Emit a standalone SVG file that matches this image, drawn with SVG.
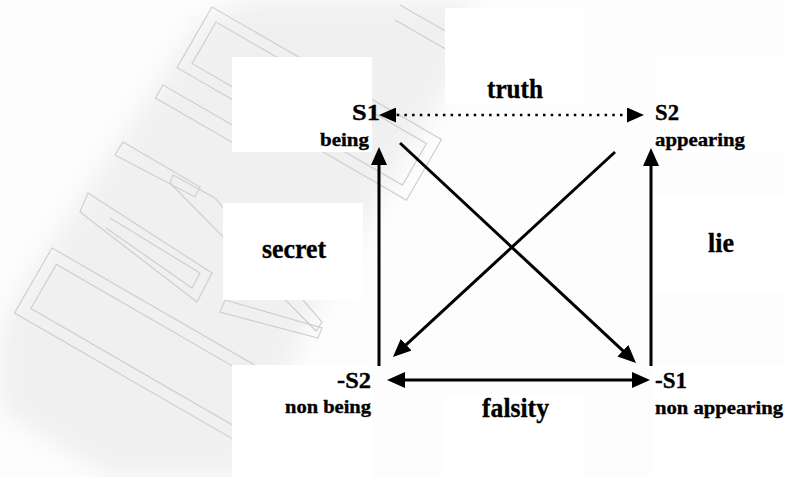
<svg xmlns="http://www.w3.org/2000/svg" width="785" height="477" viewBox="0 0 785 477">
  <defs>
    <style>
      .t { font-family: "Liberation Serif", "Times New Roman", serif; font-weight: bold; fill: #000; stroke: #000; stroke-width: 0.35; }
      .big { font-size: 28px; }
      .sym { font-size: 23px; }
      .sub { font-size: 19px; }
      .wm { fill: none; stroke: #cfcfcf; stroke-width: 1.2; }
      .box { fill: #ffffff; }
      .solid { stroke: #000; stroke-width: 3; fill: none; }
      .dotted { stroke: #000; stroke-width: 2.5; fill: none; stroke-dasharray: 2.5 5.2; }
    </style>
    <filter id="blur" x="-20%" y="-20%" width="140%" height="140%">
      <feGaussianBlur stdDeviation="12"/>
    </filter>
    <marker id="ah" viewBox="0 0 18 16" markerWidth="18" markerHeight="16" refX="8" refY="8" orient="auto-start-reverse" markerUnits="userSpaceOnUse">
      <path d="M0,0 L18,8 L0,16 z" fill="#000"/>
    </marker>
    <marker id="ahs" viewBox="0 0 17 15" markerWidth="17" markerHeight="15" refX="7" refY="7.5" orient="auto-start-reverse" markerUnits="userSpaceOnUse">
      <path d="M0,0 L17,7.5 L0,15 z" fill="#000"/>
    </marker>
  </defs>

  <rect x="0" y="0" width="785" height="477" fill="#fdfdfd"/>

  <!-- watermark -->
  <g id="watermark">
    <path d="M0,330 L20,290 L200,20 L250,0 L470,0 L470,50 L320,300 L240,477 L110,477 L0,410 Z" fill="#e6e6e6" filter="url(#blur)" opacity="0.55"/>
    <g transform="translate(212,7) rotate(30)">
      <rect class="wm" x="0" y="0" width="265" height="70"/>
      <rect class="wm" x="11" y="11" width="243" height="48"/>
    </g>
    <g transform="translate(163,85) rotate(30)">
      <rect class="wm" x="0" y="0" width="90" height="15"/>
    </g>
    <polygon class="wm" points="123,142 200,187 195,197 115,155"/>
    <polygon class="wm" points="173,175 215,198 322,322 316,331 170,183"/>
    <polygon class="wm" points="88,193 212,273 197,302 80,212"/>
    <polyline class="wm" points="110,218 200,273 192,288 106,228"/>
    <polygon class="wm" points="225,300 322,328 318,338 220,312"/>
    <g transform="translate(52,248) rotate(30)">
      <rect class="wm" x="0" y="0" width="265" height="75"/>
      <rect class="wm" x="12" y="12" width="241" height="51"/>
    </g>
    <polyline class="wm" points="395,20 470,63"/>
    <polyline class="wm" points="400,5 470,45"/>
  </g>

  <!-- white label backgrounds -->
  <g id="backgrounds">
    <rect class="box" x="232" y="57" width="140" height="95"/>
    <rect class="box" x="445" y="8" width="140" height="96"/>
    <rect class="box" x="223" y="203" width="140" height="97"/>
    <rect class="box" x="650" y="195" width="135" height="98"/>
    <rect class="box" x="232" y="365" width="140" height="112"/>
    <rect class="box" x="443" y="395" width="140" height="82"/>
    <rect class="box" x="655" y="57" width="130" height="95"/>
    <rect class="box" x="653" y="365" width="132" height="112"/>
  </g>

  <!-- connectors -->
  <g id="connectors">
    <line class="dotted" x1="389" y1="115" x2="634" y2="115" marker-start="url(#ahs)" marker-end="url(#ahs)"/>
    <line class="solid" x1="379" y1="366" x2="379" y2="157" marker-end="url(#ah)"/>
    <line class="solid" x1="651" y1="366" x2="651" y2="158" marker-end="url(#ah)"/>
    <line class="solid" x1="400" y1="143" x2="628.7" y2="356.2" marker-end="url(#ah)"/>
    <line class="solid" x1="615" y1="152" x2="400.3" y2="350.2" marker-end="url(#ah)"/>
    <line class="solid" x1="397" y1="380" x2="640" y2="380" marker-start="url(#ah)" marker-end="url(#ah)"/>
  </g>

  <!-- connector labels -->
  <g id="edge-labels">
    <text class="t big" x="487" y="98" textLength="56" lengthAdjust="spacingAndGlyphs">truth</text>
    <text class="t big" x="262" y="258" textLength="64" lengthAdjust="spacingAndGlyphs">secret</text>
    <text class="t big" x="708" y="252" textLength="26" lengthAdjust="spacingAndGlyphs">lie</text>
    <text class="t big" x="482" y="417" textLength="67" lengthAdjust="spacingAndGlyphs">falsity</text>
  </g>

  <!-- nodes -->
  <g id="node-s1">
    <text class="t sym" x="352" y="120" textLength="28" lengthAdjust="spacingAndGlyphs">S1</text>
    <text class="t sub" x="320" y="146" textLength="49" lengthAdjust="spacingAndGlyphs">being</text>
  </g>
  <g id="node-s2">
    <text class="t sym" x="655" y="120" textLength="24" lengthAdjust="spacingAndGlyphs">S2</text>
    <text class="t sub" x="655" y="146" textLength="90" lengthAdjust="spacingAndGlyphs">appearing</text>
  </g>
  <g id="node-not-s2">
    <text class="t sym" x="337" y="388" textLength="34" lengthAdjust="spacingAndGlyphs">-S2</text>
    <text class="t sub" x="285" y="413" textLength="86" lengthAdjust="spacingAndGlyphs">non being</text>
  </g>
  <g id="node-not-s1">
    <text class="t sym" x="655" y="388" textLength="32" lengthAdjust="spacingAndGlyphs">-S1</text>
    <text class="t sub" x="655" y="414" textLength="128" lengthAdjust="spacingAndGlyphs">non appearing</text>
  </g>
</svg>
